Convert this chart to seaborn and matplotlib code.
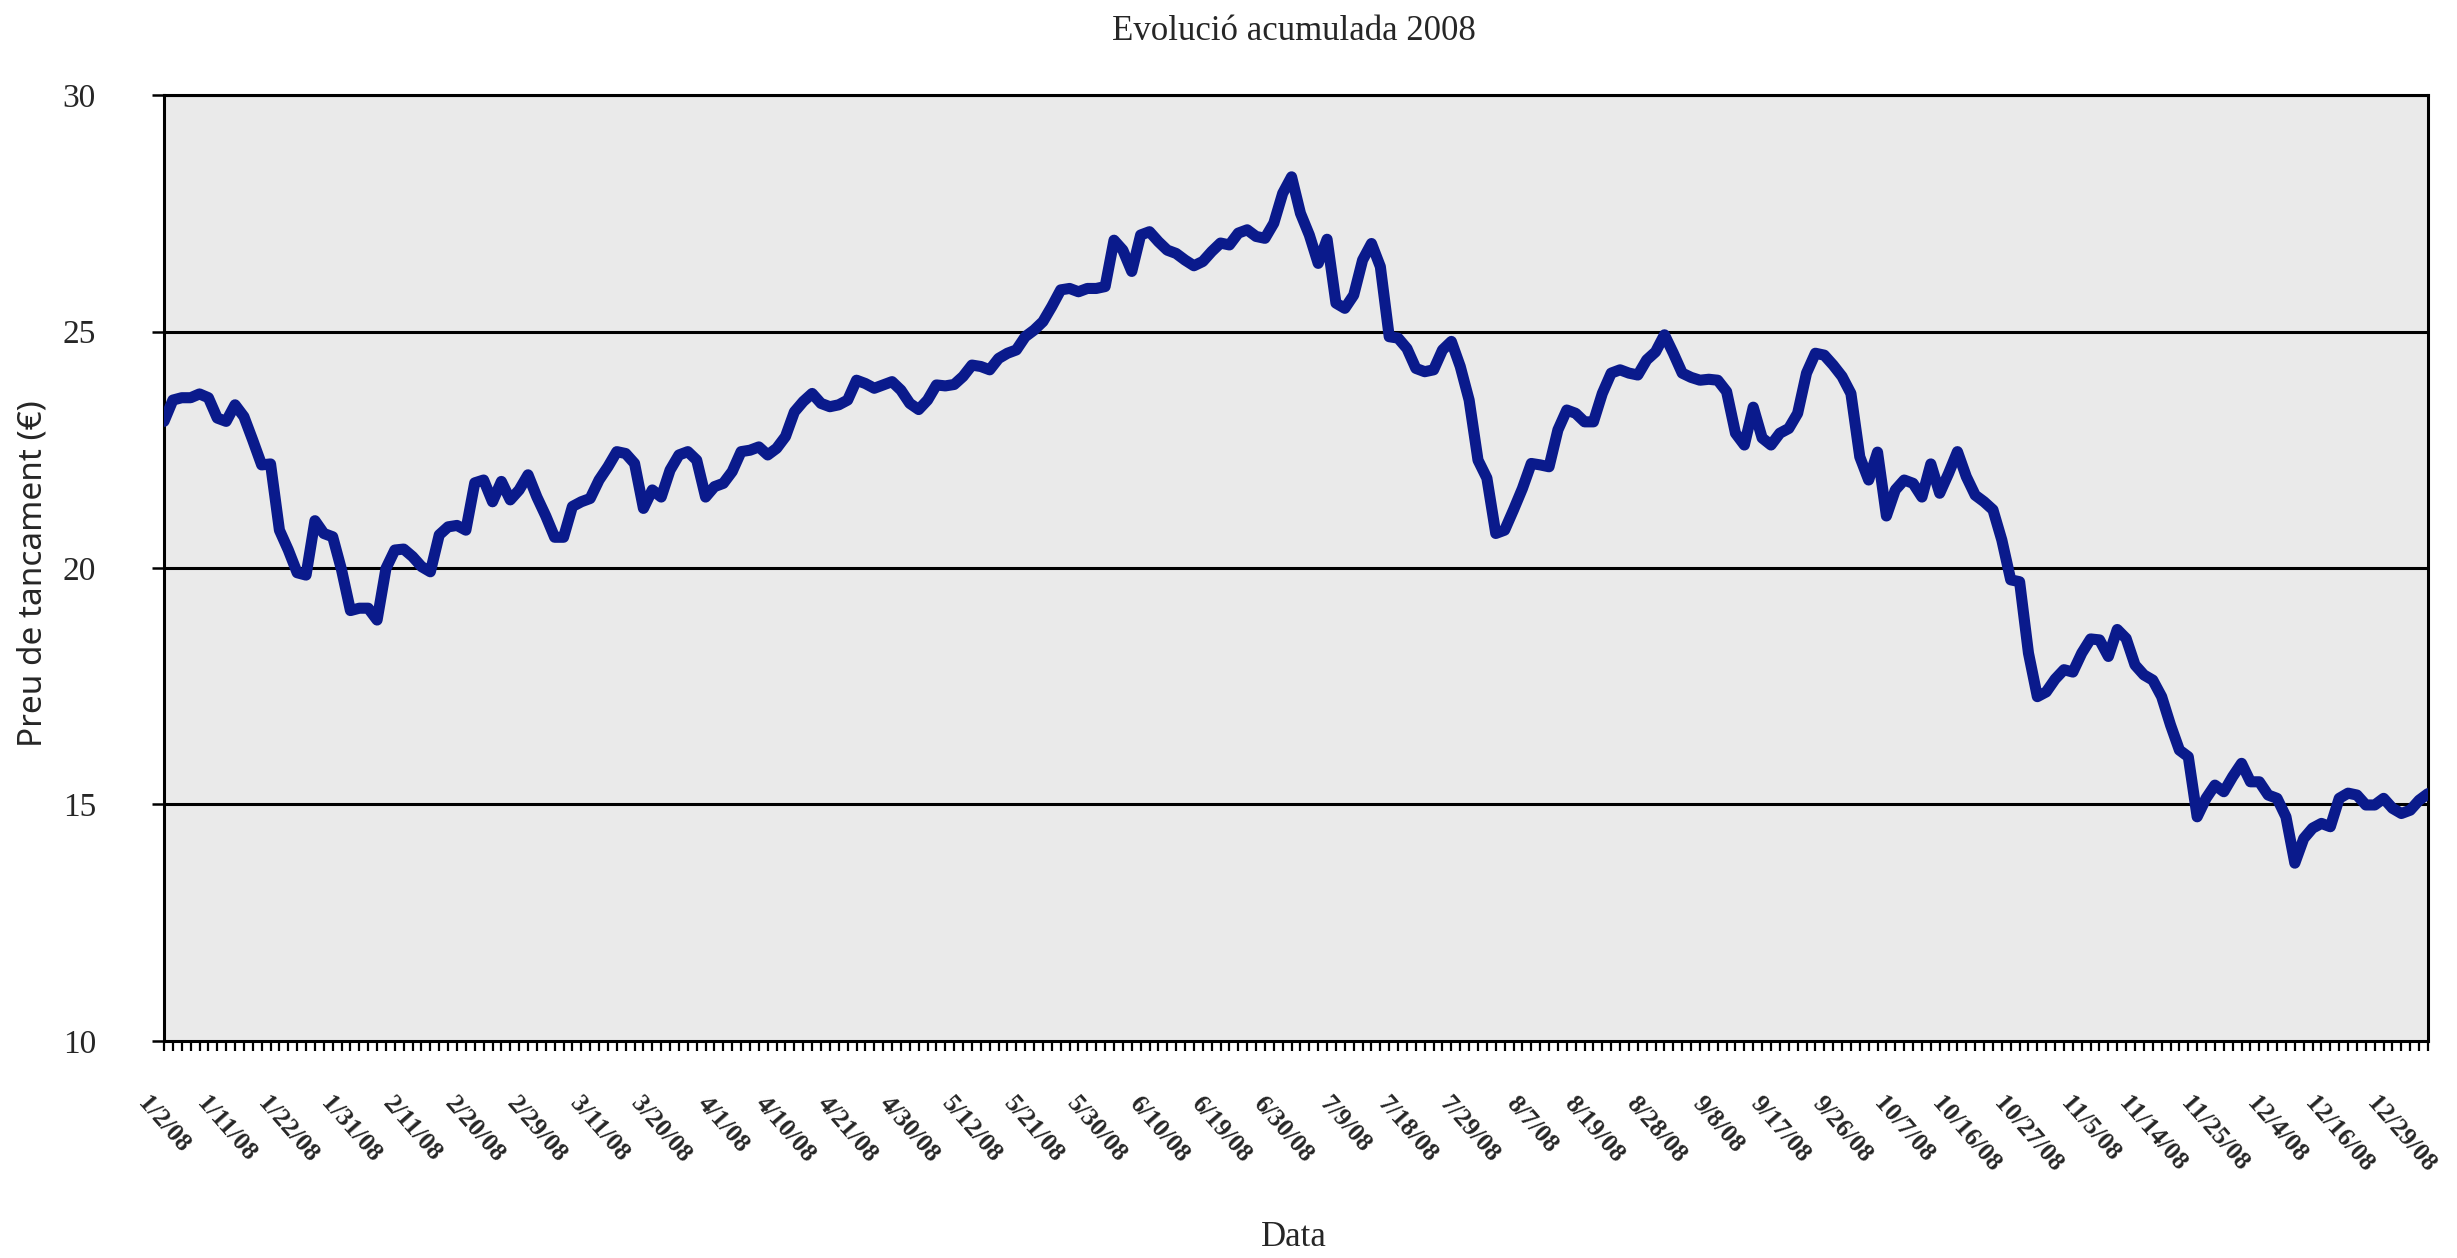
import numpy as np
import pandas as pd
import matplotlib
matplotlib.use('Agg')
import matplotlib.pyplot as plt
from matplotlib.ticker import MultipleLocator
import seaborn as sns

TITOL = 'Evolució acumulada 2008'
ETIQ_Y = 'Preu de tancament (€)'
ETIQ_X = 'Data'

# dies de borsa (calendari del gràfic)
festius = ['2008-03-21', '2008-05-01', '2008-08-15', '2008-12-08',
           '2008-12-25', '2008-12-26', '2009-01-01']
dies = pd.bdate_range('2008-01-02', '2009-01-02', freq='C', holidays=festius)

preus = [
    23.1, 23.55, 23.6, 23.6, 23.68, 23.6, 23.17, 23.1, 23.45, 23.2,
    22.7, 22.18, 22.2, 20.8, 20.38, 19.9, 19.85, 21.0, 20.73, 20.66,
    19.96, 19.1, 19.15, 19.15, 18.9, 19.99, 20.38, 20.4, 20.24, 20.03,
    19.92, 20.7, 20.87, 20.9, 20.8, 21.8, 21.86, 21.4, 21.83, 21.44,
    21.65, 21.97, 21.5, 21.1, 20.65, 20.65, 21.3, 21.4, 21.47, 21.86,
    22.14, 22.46, 22.42, 22.21, 21.26, 21.65, 21.5, 22.07, 22.39, 22.46,
    22.28, 21.5, 21.72, 21.79, 22.04, 22.46, 22.49, 22.56, 22.39, 22.53,
    22.78, 23.3, 23.52, 23.69, 23.48, 23.41, 23.45, 23.55, 23.97, 23.9,
    23.8, 23.87, 23.94, 23.76, 23.48, 23.35, 23.55, 23.87, 23.85, 23.88,
    24.05, 24.29, 24.26, 24.19, 24.43, 24.54, 24.61, 24.89, 25.03, 25.21,
    25.53, 25.88, 25.91, 25.84, 25.91, 25.91, 25.95, 26.93, 26.72, 26.27,
    27.04, 27.11, 26.9, 26.72, 26.65, 26.51, 26.39, 26.48, 26.69, 26.87,
    26.83, 27.08, 27.15, 27.01, 26.97, 27.29, 27.92, 28.27, 27.5, 27.04,
    26.44, 26.95, 25.6, 25.49, 25.77, 26.51, 26.86, 26.37, 24.89, 24.86,
    24.64, 24.22, 24.15, 24.19, 24.61, 24.79, 24.26, 23.55, 22.28, 21.9,
    20.73, 20.8, 21.23, 21.68, 22.21, 22.18, 22.14, 22.92, 23.34, 23.27,
    23.09, 23.09, 23.69, 24.12, 24.19, 24.12, 24.08, 24.4, 24.57, 24.93,
    24.54, 24.12, 24.03, 23.97, 23.99, 23.97, 23.73, 22.85, 22.6, 23.4,
    22.75, 22.6, 22.85, 22.95, 23.27, 24.12, 24.54, 24.5, 24.29, 24.05,
    23.69, 22.35, 21.86, 22.45, 21.1, 21.65, 21.86, 21.79, 21.5, 22.2,
    21.58, 22.0, 22.46, 21.93, 21.54, 21.4, 21.23, 20.59, 19.75, 19.71,
    18.2, 17.28, 17.38, 17.65, 17.85, 17.8, 18.2, 18.5, 18.48, 18.13,
    18.7, 18.51, 17.95, 17.74, 17.63, 17.28, 16.68, 16.15, 16.01, 14.74,
    15.13, 15.41, 15.27, 15.59, 15.87, 15.48, 15.48, 15.2, 15.13, 14.74,
    13.76, 14.28, 14.5, 14.6, 14.53, 15.13, 15.24, 15.2, 14.99, 14.99,
    15.13, 14.92, 14.81, 14.88, 15.09, 15.23,
]

ticks_y = [10, 15, 20, 25, 30]

idx = np.arange(len(dies))
etiquetes = [f"{d.month}/{d.day}/{d.strftime('%y')}" for d in dies]

sns.set_style('white')
plt.rcParams['font.family'] = ['Liberation Serif', 'DejaVu Serif']

fig = plt.figure(figsize=(24.57, 12.58), dpi=100)
ax = fig.add_axes([164 / 2457, 1 - 1041 / 1258, 2264 / 2457, 946 / 1258])
ax.set_facecolor('#eaeaea')

for v in ticks_y[1:]:
    ax.axhline(v, color='black', lw=2.2, zorder=1)

sns.lineplot(x=idx, y=preus, color='#0a1a8c', linewidth=8, ax=ax, zorder=3)

ax.set_xlim(0, len(dies) - 1)
ax.set_ylim(10, 30)
ax.set_yticks(ticks_y)
ax.set_yticklabels([str(t) for t in ticks_y], fontsize=24)
ax.set_xticks(idx[::7])
ax.set_xticklabels(etiquetes[::7], rotation=-49, ha='center', va='top',
                   fontsize=18.5, fontweight='bold')
ax.xaxis.set_minor_locator(MultipleLocator(1))
ax.tick_params(axis='x', which='both', direction='out', length=7, width=1.6,
               color='black', pad=30, bottom=True)
ax.tick_params(axis='y', direction='out', length=9, width=1.8, color='black',
               pad=40, left=True)
ax.set_xlabel('')
ax.set_ylabel('')
for s in ax.spines.values():
    s.set_color('black')
    s.set_linewidth(2.2)

fig.text(1294 / 2457, 1 - 31 / 1258, TITOL, ha='center', va='center', fontsize=25)
fig.text(33 / 2457, 1 - 574 / 1258, ETIQ_Y, ha='center', va='center',
         rotation=90, fontsize=24, family=['Noto Sans', 'DejaVu Sans'])
fig.text(1294 / 2457, 1 - 1238 / 1258, ETIQ_X, ha='center', va='center', fontsize=25)

fig.savefig('out.png', dpi=100)
